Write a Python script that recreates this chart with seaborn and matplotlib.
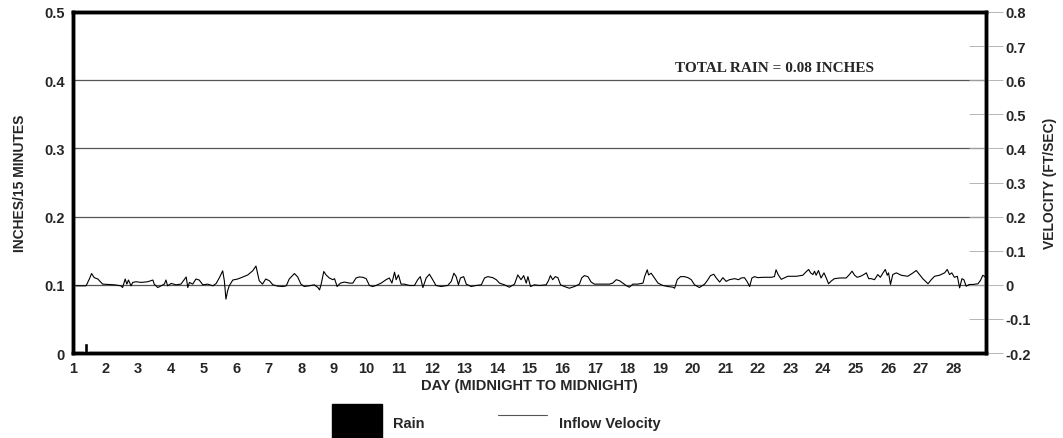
import numpy as np
import pandas as pd
import seaborn as sns
import matplotlib.pyplot as plt
from matplotlib.patches import Patch
from matplotlib.lines import Line2D

# rain (inches / 15 minutes)
rain_day = [1.40]
rain_in = [0.014]

# inflow velocity (ft/sec)
vel_day = [1.09, 1.40, 1.50, 1.57, 1.65, 1.76, 1.91, 2.27, 2.47, 2.52, 2.60, 2.65, 2.70, 2.78, 2.83,
           2.93, 3.09, 3.29, 3.45, 3.49, 3.60, 3.70, 3.80, 3.85, 3.90, 4.01, 4.16, 4.31, 4.47, 4.52,
           4.57, 4.67, 4.77, 4.87, 4.98, 5.13, 5.29, 5.39, 5.49, 5.59, 5.64, 5.69, 5.74, 5.79, 5.90,
           6.05, 6.21, 6.36, 6.51, 6.61, 6.71, 6.81, 6.91, 7.02, 7.13, 7.28, 7.44, 7.54, 7.63, 7.79,
           7.89, 7.99, 8.09, 8.24,
           8.40, 8.51, 8.56, 8.61, 8.69, 8.76, 8.86, 8.97, 9.02, 9.10, 9.20, 9.32, 9.48, 9.58, 9.68,
           9.78, 9.89, 9.99, 10.09, 10.19, 10.29, 10.45, 10.60, 10.70, 10.78, 10.86, 10.91, 10.98,
           11.06, 11.16, 11.32, 11.47, 11.57, 11.65, 11.73, 11.83, 11.93, 12.03, 12.13, 12.29, 12.49,
           12.60, 12.68, 12.75, 12.82, 12.88, 12.98, 13.06, 13.21, 13.36, 13.52, 13.62, 13.72, 13.87,
           13.98, 14.08, 14.23, 14.38, 14.54, 14.64, 14.74, 14.82, 14.90, 14.95, 15.03, 15.15, 15.30,
           15.51,
           15.58, 15.64, 15.71, 15.79, 15.87, 15.95, 16.07, 16.22, 16.38, 16.53, 16.60, 16.68, 16.79,
           16.89, 16.99, 17.20, 17.45, 17.55, 17.66, 17.76, 17.86, 17.96, 18.06, 18.17, 18.32, 18.48,
           18.53, 18.61, 18.65, 18.73, 18.83, 18.94, 19.09, 19.24, 19.40, 19.45, 19.53, 19.63, 19.75,
           19.86, 19.96, 20.06, 20.21, 20.37, 20.47, 20.55, 20.65, 20.72, 20.83, 20.93, 21.03, 21.13,
           21.29, 21.41, 21.49, 21.59, 21.67, 21.75, 21.82, 21.90, 22.00, 22.16, 22.41, 22.51, 22.56,
           22.63,
           22.72, 22.92, 23.18, 23.38, 23.48, 23.56, 23.62, 23.69, 23.74, 23.79, 23.86, 23.94, 24.03,
           24.10, 24.17, 24.25, 24.35, 24.51, 24.71, 24.81, 24.89, 24.97, 25.05, 25.15, 25.25, 25.33,
           25.40, 25.48, 25.58, 25.68, 25.76, 25.84, 25.91, 25.97, 26.01, 26.07, 26.14, 26.25, 26.40,
           26.60, 26.76, 26.86, 26.96, 27.06, 27.22, 27.32, 27.42, 27.57, 27.73, 27.81, 27.88, 27.95,
           28.03, 28.12, 28.19, 28.26, 28.32, 28.39, 28.49, 28.60, 28.75, 28.83, 28.90, 28.95, 29.00]
vel_fps = [-0.003, -0.003, 0.017, 0.033, 0.021, 0.017, 0.002, 0.000, -0.003, -0.008, 0.017, 0.002, 0.014, -0.003, 0.007,
           0.009, 0.007, 0.009, 0.014, 0.002, -0.008, -0.003, 0.002, 0.014, -0.003, 0.004, 0.000, 0.002, 0.023, -0.008,
           0.007, 0.002, 0.017, 0.014, 0.000, 0.002, -0.003, 0.004, 0.021, 0.041, 0.012, -0.042, -0.018, -0.003, 0.014,
           0.017, 0.023, 0.029, 0.041, 0.055, 0.012, 0.002, 0.017, 0.012, 0.000, -0.004, -0.005, -0.003, 0.017, 0.033,
           0.023, 0.002, -0.005, -0.003,
           0.000, -0.008, -0.015, 0.002, 0.039, 0.029, 0.020, 0.015, 0.018, -0.005, 0.005, 0.008, 0.005, 0.005, 0.020,
           0.023, 0.022, 0.018, -0.002, -0.005, -0.002, 0.005, 0.015, 0.020, 0.005, 0.037, 0.015, 0.029,
           0.002, 0.002, -0.002, -0.002, 0.015, 0.024, -0.008, 0.020, 0.031, 0.015, -0.002, -0.005, -0.002,
           0.010, 0.034, 0.024, 0.000, 0.020, 0.024, 0.002, -0.005, -0.002, 0.000, 0.020, 0.024, 0.021,
           0.015, 0.005, 0.000, -0.007, 0.002, 0.029, 0.015, 0.027, 0.005, 0.024, -0.005, 0.000, -0.002,
           0.000,
           0.012, 0.027, 0.015, 0.024, 0.021, 0.000, -0.005, -0.010, -0.005, 0.002, 0.020, 0.027, 0.024,
           0.008, 0.002, 0.002, 0.002, 0.005, 0.015, 0.012, 0.005, -0.002, -0.007, 0.002, 0.002, 0.005,
           0.024, 0.044, 0.029, 0.034, 0.020, 0.005, -0.002, -0.005, -0.007, -0.010, 0.015, 0.024, 0.024,
           0.021, 0.015, 0.000, -0.008, 0.002, 0.015, 0.027, 0.031, 0.021, 0.008, 0.021, 0.010, 0.015,
           0.018, 0.015, 0.020, 0.021, 0.010, -0.005, 0.020, 0.024, 0.021, 0.022, 0.022, 0.024, 0.044,
           0.029,
           0.016, 0.025, 0.025, 0.028, 0.038, 0.045, 0.035, 0.030, 0.040, 0.028, 0.042, 0.020, 0.035,
           0.020, 0.003, 0.011, 0.018, 0.020, 0.020, 0.030, 0.040, 0.028, 0.022, 0.025, 0.030, 0.035,
           0.018, 0.018, 0.015, 0.030, 0.022, 0.035, 0.045, 0.028, 0.035, 0.001, 0.030, 0.035, 0.028,
           0.025, 0.035, 0.042, 0.030, 0.018, 0.003, 0.015, 0.025, 0.028, 0.035, 0.045, 0.030, 0.035,
           0.022, 0.025, -0.009, 0.018, 0.015, -0.004, 0.001, 0.001, 0.003, 0.013, 0.028, 0.025, 0.020]

day_ticks = list(range(1, 29))
rain_ticks = [0, 0.1, 0.2, 0.3, 0.4, 0.5]
vel_ticks = [-0.2, -0.1, 0, 0.1, 0.2, 0.3, 0.4, 0.5, 0.6, 0.7, 0.8]

sns.set_style('white')
plt.rcParams['font.family'] = ['Liberation Sans', 'DejaVu Sans']

fig = plt.figure(figsize=(10.63, 4.39), dpi=100)
ax = fig.add_axes([0.0687, 0.1936, 0.8589, 0.7768])

# rain bars on the left axis
ax.bar(rain_day, rain_in, width=0.12, color='black', zorder=3)
ax.set_xlim(1, 29)
ax.set_ylim(0, 0.5)
ax.set_yticks(rain_ticks)
ax.set_yticklabels(['0', '0.1', '0.2', '0.3', '0.4', '0.5'], fontsize=10.5, fontweight='bold')
ax.set_xticks(day_ticks)
ax.set_xticklabels([str(d) for d in day_ticks], fontsize=10.5, fontweight='bold')
ax.tick_params(axis='y', length=0, pad=6)
ax.tick_params(axis='x', length=0, pad=6)
for y in rain_ticks[1:-1]:
    ax.axhline(y, color='#555555', lw=0.9, zorder=1)
for s in ax.spines.values():
    s.set_linewidth(2.5)
    s.set_color('black')
ax.set_ylabel('INCHES/15 MINUTES', fontsize=10, fontweight='bold', labelpad=12)
ax.set_xlabel('DAY (MIDNIGHT TO MIDNIGHT)', fontsize=10.5, fontweight='bold', labelpad=2)

ax.text(22.5, 0.419, 'TOTAL RAIN = 0.08 INCHES', fontsize=11, fontweight='bold',
        family=['Liberation Serif', 'DejaVu Serif'], ha='center', va='center')

# velocity on the right axis
ax2 = ax.twinx()
vel = pd.DataFrame({'day': vel_day, 'velocity': vel_fps})
sns.lineplot(data=vel, x='day', y='velocity', ax=ax2, color='black', lw=0.8, zorder=4)
ax2.set_ylim(-0.2, 0.8)
ax2.set_yticks(vel_ticks)
ax2.set_yticklabels(['-0.2', '-0.1', '0', '0.1', '0.2', '0.3', '0.4', '0.5', '0.6', '0.7', '0.8'],
                    fontsize=10.5, fontweight='bold')
ax2.tick_params(axis='y', direction='inout', length=24, width=0.6, color='#aaaaaa', pad=2)
ax2.set_ylabel('VELOCITY (FT/SEC)', fontsize=10, fontweight='bold', labelpad=9)
ax2.set_xlim(1, 29)
for s in ax2.spines.values():
    s.set_linewidth(2.5)
    s.set_color('black')

handles = [Patch(facecolor='black', edgecolor='black', label='Rain'),
           Line2D([], [], color='#555555', lw=0.8, label='Inflow Velocity')]
fig.legend(handles=handles, loc='upper center', bbox_to_anchor=(0.467, 0.107), ncol=2,
           frameon=False, prop={'weight': 'bold', 'size': 10.5}, handlelength=3.4,
           handleheight=3.5, handletextpad=0.8, columnspacing=5.0)

fig.savefig('out.png', dpi=100)
